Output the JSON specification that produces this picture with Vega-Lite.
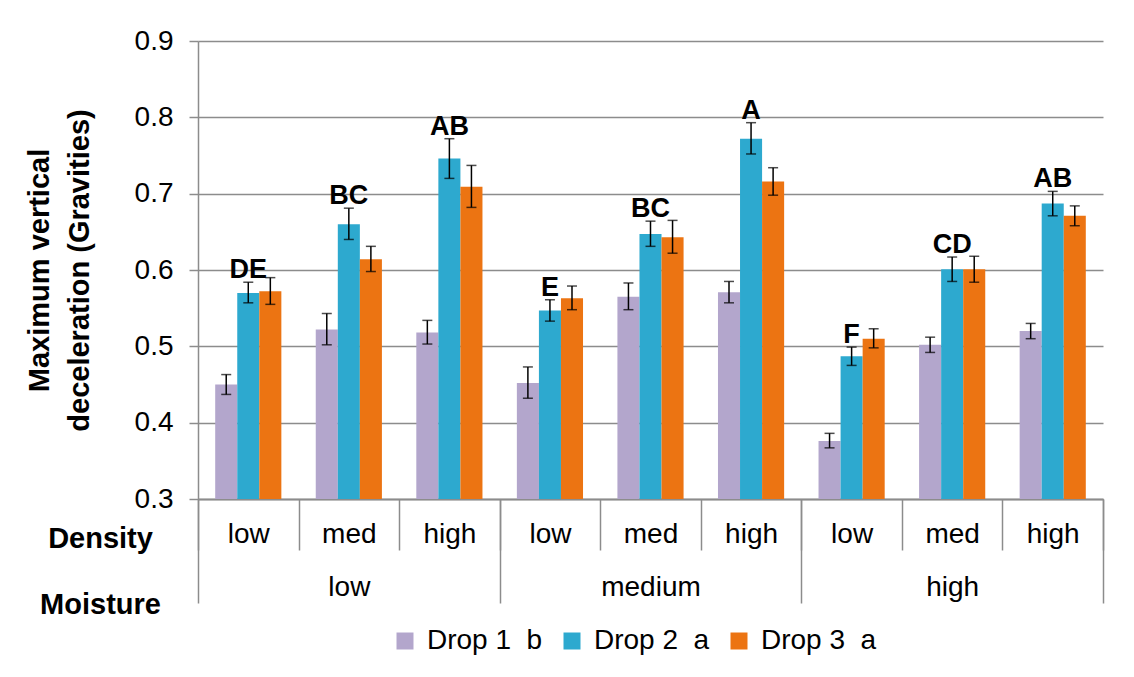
{
  "$schema": "https://vega.github.io/schema/vega-lite/v6.json",
  "width": 905,
  "height": 458,
  "autosize": {"type": "none"},
  "padding": {"left": 198, "top": 41, "right": 31, "bottom": 178},
  "background": "white",
  "config": {
    "view": {"stroke": null},
    "font": "Liberation Sans",
    "axis": {"labelFont": "Liberation Sans", "titleFont": "Liberation Sans", "labelColor": "black", "titleColor": "black"},
    "legend": {"labelFont": "Liberation Sans"}
  },
  "data": {
    "values": [
      {"treatment": "low-low", "moisture": "low", "density": "low", "drop": "Drop 1", "value": 0.450, "lo": 0.437, "hi": 0.463, "letter": ""},
      {"treatment": "low-low", "moisture": "low", "density": "low", "drop": "Drop 2", "value": 0.570, "lo": 0.557, "hi": 0.584, "letter": "DE"},
      {"treatment": "low-low", "moisture": "low", "density": "low", "drop": "Drop 3", "value": 0.572, "lo": 0.555, "hi": 0.590, "letter": ""},
      {"treatment": "low-med", "moisture": "low", "density": "med", "drop": "Drop 1", "value": 0.522, "lo": 0.502, "hi": 0.543, "letter": ""},
      {"treatment": "low-med", "moisture": "low", "density": "med", "drop": "Drop 2", "value": 0.660, "lo": 0.640, "hi": 0.681, "letter": "BC"},
      {"treatment": "low-med", "moisture": "low", "density": "med", "drop": "Drop 3", "value": 0.614, "lo": 0.598, "hi": 0.631, "letter": ""},
      {"treatment": "low-high", "moisture": "low", "density": "high", "drop": "Drop 1", "value": 0.518, "lo": 0.503, "hi": 0.534, "letter": ""},
      {"treatment": "low-high", "moisture": "low", "density": "high", "drop": "Drop 2", "value": 0.746, "lo": 0.720, "hi": 0.772, "letter": "AB"},
      {"treatment": "low-high", "moisture": "low", "density": "high", "drop": "Drop 3", "value": 0.709, "lo": 0.682, "hi": 0.737, "letter": ""},
      {"treatment": "medium-low", "moisture": "medium", "density": "low", "drop": "Drop 1", "value": 0.452, "lo": 0.432, "hi": 0.473, "letter": ""},
      {"treatment": "medium-low", "moisture": "medium", "density": "low", "drop": "Drop 2", "value": 0.547, "lo": 0.533, "hi": 0.561, "letter": "E"},
      {"treatment": "medium-low", "moisture": "medium", "density": "low", "drop": "Drop 3", "value": 0.563, "lo": 0.548, "hi": 0.579, "letter": ""},
      {"treatment": "medium-med", "moisture": "medium", "density": "med", "drop": "Drop 1", "value": 0.565, "lo": 0.548, "hi": 0.583, "letter": ""},
      {"treatment": "medium-med", "moisture": "medium", "density": "med", "drop": "Drop 2", "value": 0.647, "lo": 0.631, "hi": 0.664, "letter": "BC"},
      {"treatment": "medium-med", "moisture": "medium", "density": "med", "drop": "Drop 3", "value": 0.643, "lo": 0.622, "hi": 0.665, "letter": ""},
      {"treatment": "medium-high", "moisture": "medium", "density": "high", "drop": "Drop 1", "value": 0.571, "lo": 0.557, "hi": 0.585, "letter": ""},
      {"treatment": "medium-high", "moisture": "medium", "density": "high", "drop": "Drop 2", "value": 0.772, "lo": 0.752, "hi": 0.793, "letter": "A"},
      {"treatment": "medium-high", "moisture": "medium", "density": "high", "drop": "Drop 3", "value": 0.716, "lo": 0.698, "hi": 0.734, "letter": ""},
      {"treatment": "high-low", "moisture": "high", "density": "low", "drop": "Drop 1", "value": 0.376, "lo": 0.367, "hi": 0.386, "letter": ""},
      {"treatment": "high-low", "moisture": "high", "density": "low", "drop": "Drop 2", "value": 0.487, "lo": 0.475, "hi": 0.499, "letter": "F"},
      {"treatment": "high-low", "moisture": "high", "density": "low", "drop": "Drop 3", "value": 0.510, "lo": 0.498, "hi": 0.523, "letter": ""},
      {"treatment": "high-med", "moisture": "high", "density": "med", "drop": "Drop 1", "value": 0.502, "lo": 0.492, "hi": 0.512, "letter": ""},
      {"treatment": "high-med", "moisture": "high", "density": "med", "drop": "Drop 2", "value": 0.601, "lo": 0.585, "hi": 0.617, "letter": "CD"},
      {"treatment": "high-med", "moisture": "high", "density": "med", "drop": "Drop 3", "value": 0.601, "lo": 0.584, "hi": 0.618, "letter": ""},
      {"treatment": "high-high", "moisture": "high", "density": "high", "drop": "Drop 1", "value": 0.520, "lo": 0.510, "hi": 0.530, "letter": ""},
      {"treatment": "high-high", "moisture": "high", "density": "high", "drop": "Drop 2", "value": 0.687, "lo": 0.671, "hi": 0.703, "letter": "AB"},
      {"treatment": "high-high", "moisture": "high", "density": "high", "drop": "Drop 3", "value": 0.671, "lo": 0.658, "hi": 0.684, "letter": ""}
    ]
  },
  "layer": [
    {
      "encoding": {
        "x": {
          "field": "treatment", "type": "nominal",
          "sort": ["low-low", "low-med", "low-high", "medium-low", "medium-med", "medium-high", "high-low", "high-med", "high-high"],
          "scale": {"paddingInner": 0, "paddingOuter": 0},
          "axis": {
            "orient": "bottom",
            "labelExpr": "split(datum.label, '-')[1]",
            "labelAngle": 0, "labelFontSize": 28, "labelBaseline": "alphabetic", "labelPadding": -8,
            "tickBand": "extent", "tickSize": 51, "tickColor": "#8c8c8c", "tickWidth": 1.5,
            "domainColor": "#8c8c8c", "domainWidth": 1.5, "grid": false,
            "title": "Density", "titleFontSize": 29, "titleFontWeight": "bold",
            "titleX": -98, "titleY": 48, "titleAlign": "center", "titleBaseline": "alphabetic"
          }
        },
        "xOffset": {"field": "drop", "type": "nominal", "sort": ["Drop 1", "Drop 2", "Drop 3"], "scale": {"paddingInner": 0, "paddingOuter": 0.78}}
      },
      "layer": [
        {
          "mark": {"type": "bar"},
          "encoding": {
            "y": {
              "field": "value", "type": "quantitative",
              "scale": {"domain": [0.3, 0.9], "zero": false, "nice": false},
              "axis": {
                "values": [0.3, 0.4, 0.5, 0.6, 0.7, 0.8, 0.9], "format": ".1f",
                "labelFontSize": 28, "labelPadding": 16,
                "tickSize": 9, "tickColor": "#8c8c8c", "tickWidth": 1.5,
                "domainColor": "#8c8c8c", "domainWidth": 1.5,
                "grid": true, "gridColor": "#8c8c8c", "gridWidth": 1.5,
                "title": ["Maximum vertical", "deceleration (Gravities)"],
                "titleFontSize": 29, "titleFontWeight": "bold", "titleLineHeight": 40,
                "titleAngle": -90, "titleX": -150, "titleY": 229, "titleAlign": "center", "titleBaseline": "alphabetic"
              }
            },
            "y2": {"datum": 0.3},
            "color": {
              "field": "drop", "type": "nominal",
              "scale": {"domain": ["Drop 1", "Drop 2", "Drop 3"], "range": ["#B3A6CC", "#2DA9CF", "#EC7412"]},
              "legend": {
                "orient": "none", "legendX": 193, "legendY": 586, "direction": "horizontal",
                "title": null, "symbolType": "square", "symbolSize": 289, "symbolStrokeWidth": 0,
                "labelFontSize": 28, "labelColor": "black", "labelOffset": 8, "columnPadding": 15,
                "labelExpr": "datum.label + '\u00a0\u00a0' + (datum.label == 'Drop 1' ? 'b' : 'a')"
              }
            }
          }
        },
        {
          "mark": {"type": "rule", "color": "black", "strokeWidth": 1.5},
          "encoding": {"y": {"field": "lo", "type": "quantitative"}, "y2": {"field": "hi"}}
        },
        {
          "mark": {"type": "tick", "color": "black", "size": 10, "thickness": 1.5},
          "encoding": {"y": {"field": "hi", "type": "quantitative"}}
        },
        {
          "mark": {"type": "tick", "color": "black", "size": 10, "thickness": 1.5},
          "encoding": {"y": {"field": "lo", "type": "quantitative"}}
        },
        {
          "transform": [{"filter": "datum.letter != ''"}],
          "mark": {"type": "text", "fontSize": 27, "fontWeight": "bold", "baseline": "alphabetic", "dy": -4, "color": "black"},
          "encoding": {"y": {"field": "hi", "type": "quantitative"}, "text": {"field": "letter"}}
        }
      ]
    },
    {
      "mark": {"type": "text"},
      "encoding": {
        "x": {
          "field": "moisture", "type": "nominal", "sort": ["low", "medium", "high"],
          "scale": {"paddingInner": 0, "paddingOuter": 0},
          "axis": {
            "orient": "bottom",
            "labelAngle": 0, "labelFontSize": 28, "labelBaseline": "alphabetic", "labelPadding": -8,
            "tickBand": "extent", "tickSize": 104, "tickColor": "#8c8c8c", "tickWidth": 1.5,
            "domainColor": "#8c8c8c", "domainWidth": 1.5, "grid": false,
            "title": "Moisture", "titleFontSize": 29, "titleFontWeight": "bold",
            "titleX": -98, "titleY": 114, "titleAlign": "center", "titleBaseline": "alphabetic"
          }
        },
        "text": {"value": ""}
      }
    }
  ],
  "resolve": {"scale": {"x": "independent"}}
}
